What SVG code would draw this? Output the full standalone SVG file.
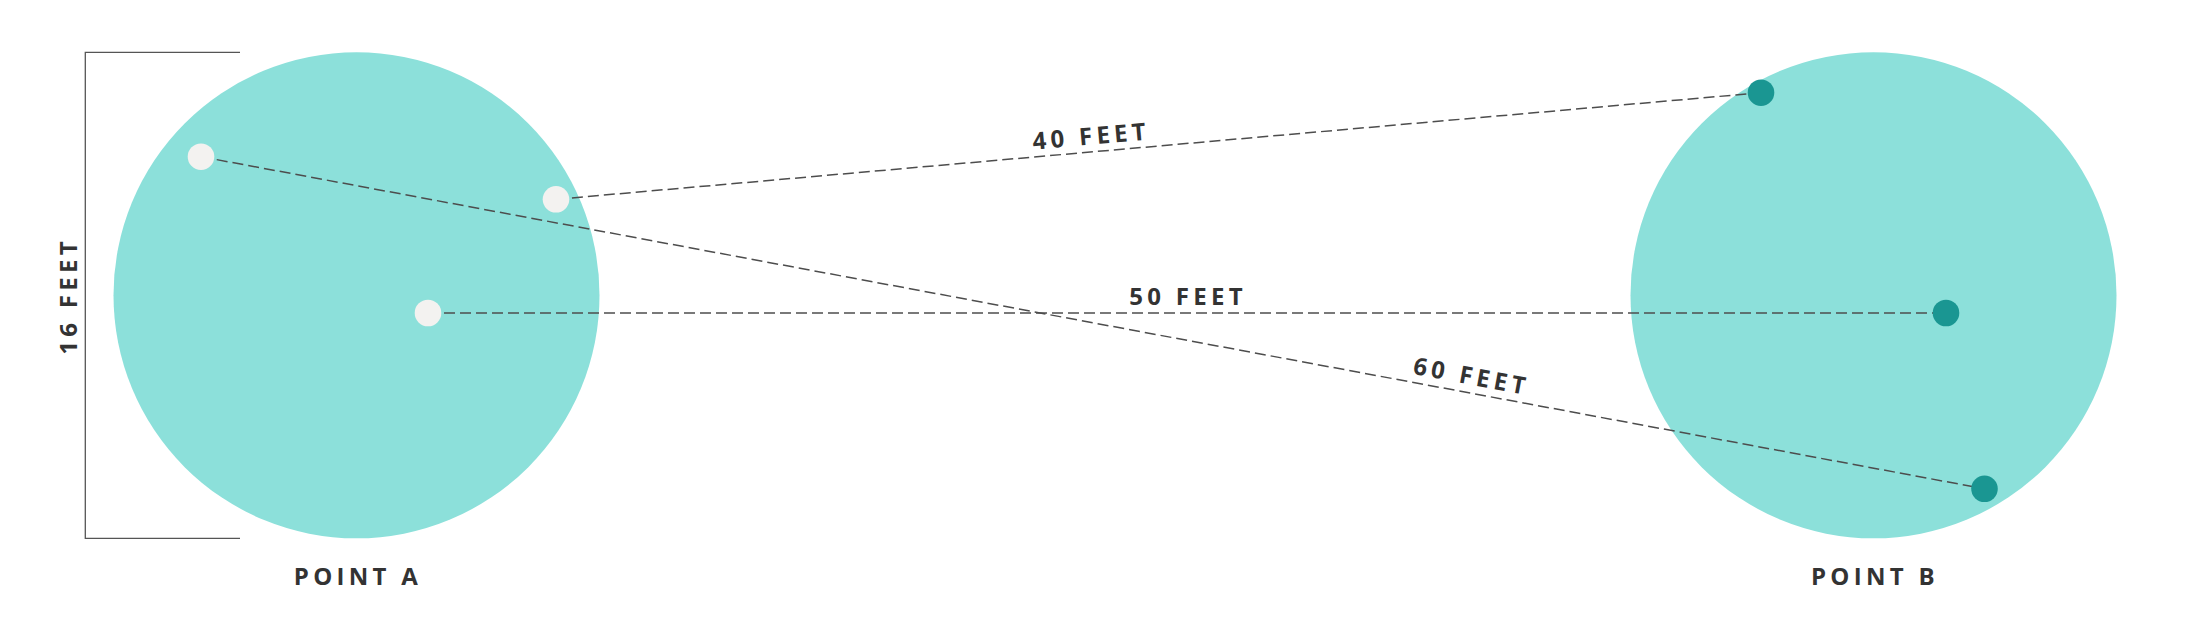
<svg xmlns="http://www.w3.org/2000/svg" width="2200" height="631" viewBox="0 0 2200 631">
<style>
.area{fill:#8ce0da}
.ptA{fill:#f3f2f0}
.ptB{fill:#1a9692}
.conn{stroke:#4d4d4d;stroke-width:1.5;stroke-dasharray:11 5;fill:none}
.bracket{stroke:#555;stroke-width:1.3;fill:none}
.lbl{font-family:"Open Sans","Liberation Sans",sans-serif;font-weight:700;font-size:24px;fill:#333;letter-spacing:4.3px;text-anchor:middle}
</style>
<rect width="2200" height="631" fill="#fff"/>
<g id="pointA">
<circle class="area" cx="356.5" cy="295.3" r="243"/>
<text class="lbl" x="358" y="585">POINT A</text>
</g>
<g id="pointB">
<circle class="area" cx="1873.5" cy="295.3" r="243"/>
<text class="lbl" x="1875" y="585">POINT B</text>
</g>
<g id="dimension">
<path class="bracket" d="M240 52.3 H85.3 V538.3 H240"/>
<text class="lbl" transform="translate(76.5 296) rotate(-90)">16 FEET</text>
</g>
<g id="connectors">
<line class="conn" x1="556" y1="199.3" x2="1761" y2="92.7"/>
<line class="conn" x1="428" y1="313" x2="1946" y2="313"/>
<line class="conn" x1="201" y1="156.7" x2="1984.5" y2="488.8"/>
<text class="lbl" transform="translate(1092 144.5) rotate(-5.05)">40 FEET</text>
<text class="lbl" x="1188" y="305">50 FEET</text>
<text class="lbl" transform="translate(1470 384.5) rotate(10.55)">60 FEET</text>
</g>
<g id="dotsA">
<circle class="ptA" cx="201" cy="156.7" r="13.3"/>
<circle class="ptA" cx="556" cy="199.3" r="13.3"/>
<circle class="ptA" cx="428" cy="313" r="13.3"/>
</g>
<g id="dotsB">
<circle class="ptB" cx="1761" cy="92.7" r="13.3"/>
<circle class="ptB" cx="1946" cy="313" r="13.3"/>
<circle class="ptB" cx="1984.5" cy="488.8" r="13.3"/>
</g>
</svg>
